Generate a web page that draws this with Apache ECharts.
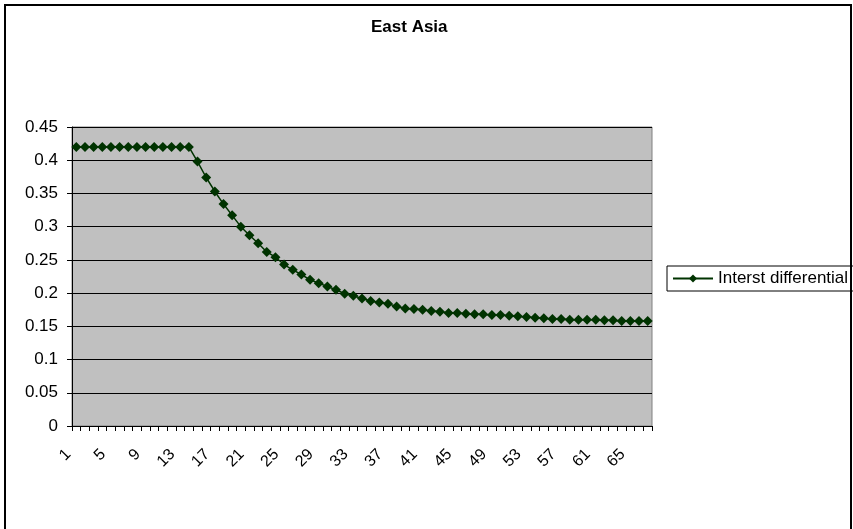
<!DOCTYPE html>
<html>
<head>
<meta charset="utf-8">
<script src="https://cdn.jsdelivr.net/npm/echarts@6/dist/echarts.min.js"></script>
<style>
  html, body { margin: 0; padding: 0; background: #fff; }
  #chart { width: 853px; height: 529px; }
</style>
</head>
<body>
<div id="chart"></div>
<script>
// Periods along the horizontal axis
const categories = [
  '1','2','3','4','5','6','7','8','9','10','11','12','13','14','15','16','17','18','19','20',
  '21','22','23','24','25','26','27','28','29','30','31','32','33','34','35','36','37','38','39','40',
  '41','42','43','44','45','46','47','48','49','50','51','52','53','54','55','56','57','58','59','60',
  '61','62','63','64','65','66','67'
];

// Interest differential per period
const interestDifferential = [
  0.420, 0.420, 0.420, 0.420, 0.420, 0.420, 0.420, 0.420, 0.420, 0.420,
  0.420, 0.420, 0.420, 0.420, 0.398, 0.374, 0.353, 0.334, 0.317, 0.300,
  0.287, 0.275, 0.262, 0.254, 0.243, 0.235, 0.228, 0.220, 0.215, 0.210,
  0.205, 0.199, 0.196, 0.192, 0.188, 0.186, 0.184, 0.180, 0.177, 0.176,
  0.175, 0.173, 0.172, 0.170, 0.170, 0.169, 0.168, 0.168, 0.167, 0.167,
  0.166, 0.165, 0.164, 0.163, 0.162, 0.161, 0.161, 0.160, 0.160, 0.160,
  0.160, 0.159, 0.159, 0.158, 0.158, 0.158, 0.158
];

// Value axis labels
const yTickLabels = ['0', '0.05', '0.1', '0.15', '0.2', '0.25', '0.3', '0.35', '0.4', '0.45'];

const seriesName = 'Interst differential';
const chartTitle = 'East Asia';

const FONT = '"Liberation Sans", Arial, sans-serif';
const chart = echarts.init(document.getElementById('chart'), null, { renderer: 'canvas' });

chart.setOption({
  animation: false,
  backgroundColor: '#ffffff',
  title: {
    text: chartTitle,
    left: 371,
    top: 19,
    padding: 0,
    textStyle: { fontFamily: FONT, fontSize: 17, fontWeight: 'bold', color: '#000' }
  },
  legend: {
    data: [seriesName],
    left: 667,
    top: 266,
    orient: 'vertical',
    padding: [4, 6, 4, 5],
    borderColor: '#000',
    borderWidth: 1,
    backgroundColor: '#fff',
    itemWidth: 40,
    itemHeight: 10,
    itemGap: 0,
    textStyle: { fontFamily: FONT, fontSize: 17, color: '#000' }
  },
  graphic: [{
    type: 'rect',
    shape: { x: 5, y: 5, width: 846, height: 600 },
    style: { fill: 'none', stroke: '#000', lineWidth: 2 },
    silent: true,
    z: 100
  }],
  grid: {
    left: 72,
    right: 201,
    top: 127,
    bottom: 103,
    show: true,
    backgroundColor: '#C0C0C0',
    borderColor: '#808080',
    borderWidth: 1,
    containLabel: false
  },
  xAxis: {
    type: 'category',
    data: categories,
    boundaryGap: true,
    axisLine: { show: true, lineStyle: { color: '#000', width: 1 } },
    axisTick: { show: true, interval: 0, length: 5, inside: false, lineStyle: { color: '#000' } },
    axisLabel: {
      interval: 3,
      rotate: 45,
      margin: 18,
      padding: [0, 11, 0, 0],
      fontFamily: FONT,
      fontSize: 16,
      color: '#000'
    },
    splitLine: { show: false }
  },
  yAxis: {
    type: 'value',
    min: 0,
    max: 0.45,
    interval: 0.05,
    axisLine: { show: true, lineStyle: { color: '#000', width: 1 } },
    axisTick: { show: true, length: 5, inside: false, lineStyle: { color: '#000' } },
    axisLabel: {
      margin: 14,
      fontFamily: FONT,
      fontSize: 17,
      color: '#000',
      formatter: function (v) {
        const i = Math.round(v / 0.05);
        return yTickLabels[i] !== undefined ? yTickLabels[i] : '';
      }
    },
    splitLine: { show: true, lineStyle: { color: '#000', width: 1 } }
  },
  series: [{
    name: seriesName,
    type: 'line',
    data: interestDifferential,
    symbol: 'diamond',
    symbolSize: 10,
    showSymbol: true,
    showAllSymbol: true,
    lineStyle: { color: '#003300', width: 1.5 },
    itemStyle: { color: '#003300', borderWidth: 0 },
    emphasis: { disabled: true }
  }]
});
</script>
</body>
</html>
